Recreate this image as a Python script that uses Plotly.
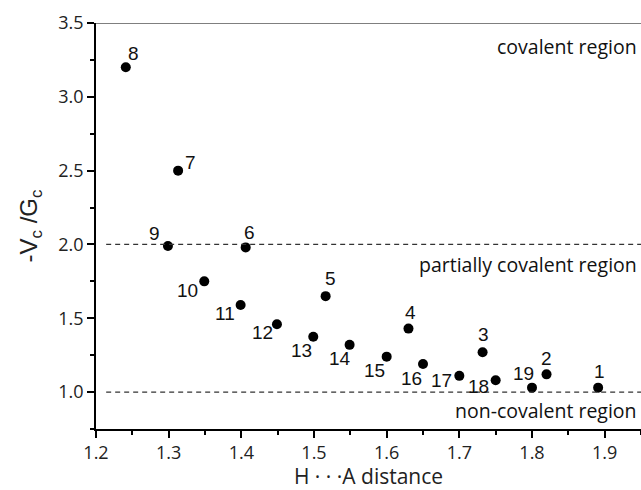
import plotly.graph_objects as go

# H···A distance and -Vc/Gc ratio for each labelled contact
labels = ["1", "2", "3", "4", "5", "6", "7", "8", "9", "10",
          "11", "12", "13", "14", "15", "16", "17", "18", "19"]
distance = [1.891, 1.82, 1.732, 1.630, 1.516, 1.406, 1.313, 1.241, 1.299, 1.349,
            1.399, 1.449, 1.499, 1.549, 1.600, 1.650, 1.700, 1.750, 1.800]
ratio = [1.03, 1.12, 1.27, 1.43, 1.65, 1.98, 2.50, 3.20, 1.99, 1.75,
         1.59, 1.46, 1.375, 1.32, 1.24, 1.19, 1.11, 1.08, 1.03]

# pixel offsets of each number label from its marker (right / down)
label_dx = [1, 0, 1, 2, 5, 4, 12, 8, -13, -17, -16, -14, -12, -10, -12, -12, -18, -17, -9]
label_dy = [-16, -16, -18, -16, -18, -15, -8, -14, -12, 9, 9, 8, 14, 14, 14, 14, 5, 6, -14]

region_names = ["covalent region", "partially covalent region", "non-covalent region"]
region_y = [3.342, 1.863, 0.878]
thresholds = [2.0, 1.0]

x_range = [1.2, 1.95]
y_range = [0.75, 3.5]

fig = go.Figure()
fig.add_trace(go.Scatter(
    x=distance, y=ratio, mode="markers",
    marker=dict(color="black", size=10),
    hoverinfo="skip", showlegend=False,
))

for t in thresholds:
    fig.add_shape(type="line", xref="x", yref="y", x0=1.214, x1=x_range[1], y0=t, y1=t,
                  line=dict(color="#333333", width=1.2, dash="5px,4px"))

# frame line along the top
fig.add_shape(type="line", xref="x", yref="y", x0=x_range[0], x1=x_range[1],
              y0=y_range[1], y1=y_range[1], line=dict(color="#555555", width=1.5))

for lab, xv, yv, dx, dy in zip(labels, distance, ratio, label_dx, label_dy):
    fig.add_annotation(x=xv, y=yv, text=lab, showarrow=False, xshift=dx, yshift=-dy,
                       font=dict(family="Liberation Sans", size=19, color="#111111"))

for name, yv in zip(region_names, region_y):
    fig.add_annotation(x=1.0, xref="paper", y=yv, yref="y", text=name, showarrow=False,
                       xanchor="right", xshift=-2,
                       font=dict(family="Open Sans", size=19.5, color="#111111"))

axis_common = dict(
    showline=True, linecolor="black", linewidth=1.5,
    ticks="outside", ticklen=7, tickwidth=1.5, tickcolor="black",
    showgrid=False, zeroline=False,
    tickfont=dict(family="Open Sans", size=18, color="#222222"),
)

fig.update_xaxes(
    range=x_range, dtick=0.1, tick0=1.2, tickformat=".1f",
    minor=dict(ticks="outside", ticklen=4, tickwidth=1.5, tickcolor="black", dtick=0.05),
    title=dict(text="H \u00b7 \u00b7 \u00b7A distance", standoff=4,
               font=dict(family="Open Sans", size=21, color="#222222")),
    **axis_common,
)
fig.update_yaxes(
    range=y_range, dtick=0.5, tick0=1.0, tickformat=".1f",
    minor=dict(ticks="outside", ticklen=4, tickwidth=1.5, tickcolor="black", dtick=0.25),
    title=dict(text="-V<sub>c</sub> /G<sub>c</sub>", standoff=14,
               font=dict(family="Liberation Sans", size=24, color="#222222")),
    **axis_common,
)

fig.update_layout(
    width=641, height=490,
    margin=dict(l=96, r=0, t=23, b=61),
    plot_bgcolor="white", paper_bgcolor="white",
)

fig.write_html("out.html")
